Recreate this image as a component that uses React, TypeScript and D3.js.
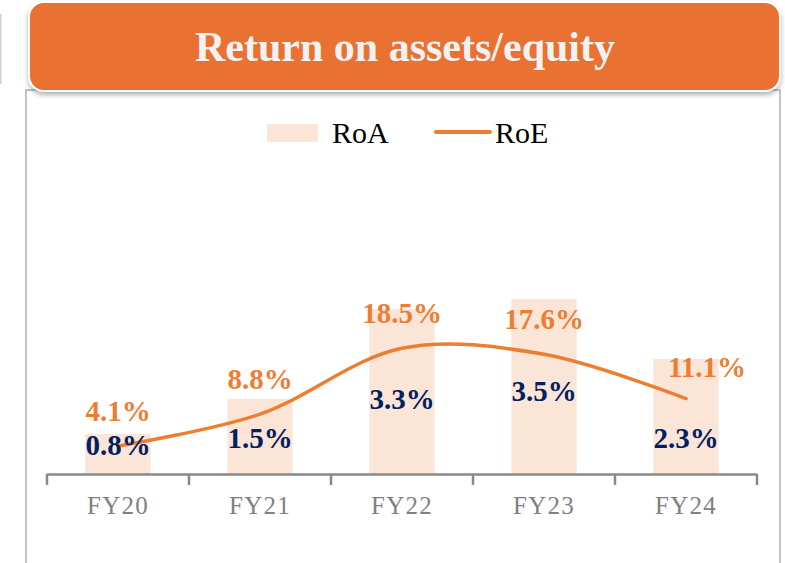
import React, { useEffect, useRef } from "react";
import * as d3 from "d3";

const categories = ["FY20", "FY21", "FY22", "FY23", "FY24"];
const roa = [0.8, 1.5, 3.3, 3.5, 2.3];
const roe = [4.1, 8.8, 18.5, 17.6, 11.1];

// labels were dragged by hand in the source deck, keep those nudges here
const roaLabelShift = [-7, 3, 9, 6, 23];
const roeLabelShift = [
  [0, 0],
  [0, 0],
  [0, 0],
  [0, 0],
  [21, 3],
];

const ORANGE = "#ED7D31";
const HEADER = "#E97132";
const PEACH = "#FBE5D6";
const NAVY = "#002060";
const AXIS = "#898989";
const SERIF = "'Liberation Serif', 'Times New Roman', serif";

const App = () => {
  const width = 785;
  const height = 563;
  const ref = useRef(null);

  useEffect(() => {
    const svg = d3.select(ref.current);
    svg.selectAll("*").remove();

    const x = d3.scaleBand().domain(categories).range([47, 757]);
    const yL = d3.scaleLinear().domain([0, 4]).range([474, 274]);
    const yR = d3.scaleLinear().domain([0, 30]).range([474, 270]);
    const y0 = yL(0);
    const barW = x.bandwidth() * 0.46;
    const cx = (c) => x(c) + x.bandwidth() / 2;

    const defs = svg.append("defs");
    const f = defs
      .append("filter")
      .attr("id", "hdrShadow")
      .attr("x", "-5%")
      .attr("y", "-20%")
      .attr("width", "110%")
      .attr("height", "150%");
    f.append("feDropShadow")
      .attr("dx", 0)
      .attr("dy", 3)
      .attr("stdDeviation", 2.5)
      .attr("flood-color", "#000")
      .attr("flood-opacity", 0.3);

    // stray edge of the neighbouring panel
    svg
      .append("line")
      .attr("x1", 0.75)
      .attr("x2", 0.75)
      .attr("y1", 14)
      .attr("y2", 84)
      .attr("stroke", "#cfcfcf")
      .attr("stroke-width", 1.5);

    // panel frame
    svg
      .append("rect")
      .attr("x", 26)
      .attr("y", 90)
      .attr("width", 754)
      .attr("height", 520)
      .attr("fill", "#fff")
      .attr("stroke", "#c3c3c3")
      .attr("stroke-width", 2);

    // header banner
    svg
      .append("rect")
      .attr("x", 29)
      .attr("y", 2)
      .attr("width", 751)
      .attr("height", 89)
      .attr("rx", 15)
      .attr("fill", HEADER)
      .attr("stroke", "#fff")
      .attr("stroke-width", 2)
      .attr("filter", "url(#hdrShadow)");

    svg
      .append("text")
      .attr("x", 405)
      .attr("y", 61)
      .attr("text-anchor", "middle")
      .attr("font-family", SERIF)
      .attr("font-weight", "bold")
      .attr("font-size", 42)
      .attr("fill", "#F2F2F2")
      .text("Return on assets/equity");

    // legend
    const lg = svg.append("g").attr("font-family", SERIF).attr("font-size", 30);
    lg.append("rect")
      .attr("x", 267)
      .attr("y", 124)
      .attr("width", 51)
      .attr("height", 18)
      .attr("fill", PEACH);
    lg.append("text").attr("x", 332).attr("y", 143).attr("fill", "#000").text("RoA");
    lg.append("line")
      .attr("x1", 436)
      .attr("x2", 490)
      .attr("y1", 132)
      .attr("y2", 132)
      .attr("stroke", ORANGE)
      .attr("stroke-width", 4)
      .attr("stroke-linecap", "round");
    lg.append("text").attr("x", 495).attr("y", 143).attr("fill", "#000").text("RoE");

    // RoA bars
    svg
      .append("g")
      .selectAll("rect")
      .data(categories)
      .enter()
      .append("rect")
      .attr("x", (c) => cx(c) - barW / 2)
      .attr("y", (c, i) => yL(roa[i]))
      .attr("width", barW)
      .attr("height", (c, i) => y0 - yL(roa[i]))
      .attr("fill", PEACH);

    // axis
    const ax = svg.append("g").attr("stroke", AXIS).attr("stroke-width", 2.5);
    ax.append("line")
      .attr("x1", x.range()[0])
      .attr("x2", x.range()[1])
      .attr("y1", y0 + 0.5)
      .attr("y2", y0 + 0.5);
    const bounds = categories.map((c) => x(c)).concat([x.range()[1]]);
    ax.selectAll("line.tick")
      .data(bounds)
      .enter()
      .append("line")
      .attr("class", "tick")
      .attr("x1", (d) => d)
      .attr("x2", (d) => d)
      .attr("y1", y0)
      .attr("y2", y0 + 11);

    svg
      .append("g")
      .selectAll("text")
      .data(categories)
      .enter()
      .append("text")
      .attr("x", (c) => cx(c))
      .attr("y", 514)
      .attr("text-anchor", "middle")
      .attr("font-family", SERIF)
      .attr("font-size", 25)
      .attr("letter-spacing", 1.2)
      .attr("fill", "#808080")
      .text((c) => c);

    // RoE line
    const line = d3
      .line()
      .x((d, i) => cx(categories[i]))
      .y((d) => yR(d))
      .curve(d3.curveCatmullRom.alpha(0.5));
    svg
      .append("path")
      .datum(roe)
      .attr("fill", "none")
      .attr("stroke", ORANGE)
      .attr("stroke-width", 3.5)
      .attr("stroke-linecap", "round")
      .attr("d", line);

    // RoE labels
    svg
      .append("g")
      .selectAll("text")
      .data(roe)
      .enter()
      .append("text")
      .attr("x", (d, i) => cx(categories[i]) + roeLabelShift[i][0])
      .attr("y", (d, i) => yR(d) - 25 + roeLabelShift[i][1])
      .attr("text-anchor", "middle")
      .attr("font-family", SERIF)
      .attr("font-weight", "bold")
      .attr("font-size", 29)
      .attr("fill", ORANGE)
      .text((d) => `${d.toFixed(1)}%`);

    // RoA labels
    svg
      .append("g")
      .selectAll("text")
      .data(roa)
      .enter()
      .append("text")
      .attr("x", (d, i) => cx(categories[i]))
      .attr("y", (d, i) => (yL(d) + y0) / 2 + 8 + roaLabelShift[i])
      .attr("text-anchor", "middle")
      .attr("font-family", SERIF)
      .attr("font-weight", "bold")
      .attr("font-size", 29)
      .attr("fill", NAVY)
      .text((d) => `${d.toFixed(1)}%`);
  }, [height, width]);

  return (
    <svg
      ref={ref}
      width={width}
      height={height}
      style={{ position: "absolute", left: 0, top: 0, background: "#fff" }}
    />
  );
};

export default App;
